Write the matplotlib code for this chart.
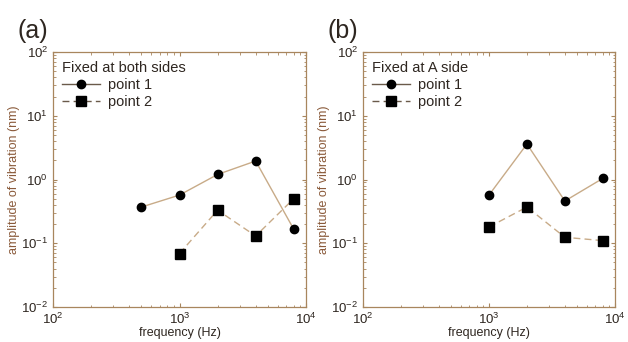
import matplotlib
matplotlib.use("Agg")
import matplotlib.pyplot as plt
from matplotlib.ticker import LogLocator, NullFormatter

plt.rcParams['font.family'] = ['Liberation Sans', 'DejaVu Sans']

freq_a1 = [500, 1000, 2000, 4000, 8000]
amp_a1 = [0.37, 0.57, 1.2, 1.95, 0.166]
freq_a2 = [1000, 2000, 4000, 8000]
amp_a2 = [0.069, 0.33, 0.13, 0.50]

freq_b1 = [1000, 2000, 4000, 8000]
amp_b1 = [0.57, 3.6, 0.46, 1.04]
freq_b2 = [1000, 2000, 4000, 8000]
amp_b2 = [0.18, 0.37, 0.124, 0.11]

panel_labels = ["(a)", "(b)"]
legend_titles = ["Fixed at both sides", "Fixed at A side"]
series_names = ["point 1", "point 2"]

line_col = "#c8ab88"
frame_col = "#a8865e"
text_col = "#2e2620"
ylab_col = "#8a5a3a"

fig = plt.figure(figsize=(6.28, 3.42), dpi=100)
axes = [fig.add_axes([53/628, 1-307/342, 253/628, 255/342]),
        fig.add_axes([363/628, 1-307/342, 252/628, 255/342])]

data = [((freq_a1, amp_a1), (freq_a2, amp_a2)),
        ((freq_b1, amp_b1), (freq_b2, amp_b2))]

for i, ax in enumerate(axes):
    (x1, y1), (x2, y2) = data[i]
    ax.plot(x1, y1, '-', color=line_col, lw=1.0, marker='o', ms=6,
            mfc='black', mec='black', label=series_names[0])
    ax.plot(x2, y2, '--', color=line_col, lw=1.0, dashes=(5, 3), marker='s', ms=6.5,
            mfc='black', mec='black', label=series_names[1])
    ax.set_xscale('log')
    ax.set_yscale('log')
    ax.set_xlim(1e2, 1e4)
    ax.set_ylim(1e-2, 1e2)
    for s in ax.spines.values():
        s.set_color(frame_col)
        s.set_linewidth(0.9)
    ax.xaxis.set_minor_locator(LogLocator(base=10, subs=range(2, 10)))
    ax.yaxis.set_minor_locator(LogLocator(base=10, subs=range(2, 10)))
    ax.xaxis.set_minor_formatter(NullFormatter())
    ax.yaxis.set_minor_formatter(NullFormatter())
    ax.tick_params(which='both', direction='in', top=True, right=True,
                   color=frame_col, labelsize=9.5, labelcolor=text_col)
    ax.tick_params(which='major', length=3)
    ax.tick_params(which='minor', length=1.8)
    ax.set_xlabel("frequency (Hz)", fontsize=9, color=text_col, labelpad=0)
    ax.set_ylabel("amplitude of vibration (nm)", fontsize=9, color=ylab_col, labelpad=1)
    leg = ax.legend(title=legend_titles[i], loc='upper left', frameon=False,
                    fontsize=10.5, title_fontsize=10.5, borderaxespad=0.3,
                    handlelength=2.6, handletextpad=0.5, labelspacing=0.2,
                    borderpad=0.35)
    leg._legend_box.align = "left"
    leg.get_title().set_color(text_col)
    for t in leg.get_texts():
        t.set_color(text_col)
    for h in leg.legend_handles:
        h.set_color('#6a5a4a')
        h.set_markerfacecolor('black')
        h.set_markeredgecolor('black')
    ax.text(-0.14, 1.035, panel_labels[i], transform=ax.transAxes,
            fontsize=18, color=text_col, ha='left', va='bottom')

fig.savefig("out.png", dpi=100, facecolor='white')
